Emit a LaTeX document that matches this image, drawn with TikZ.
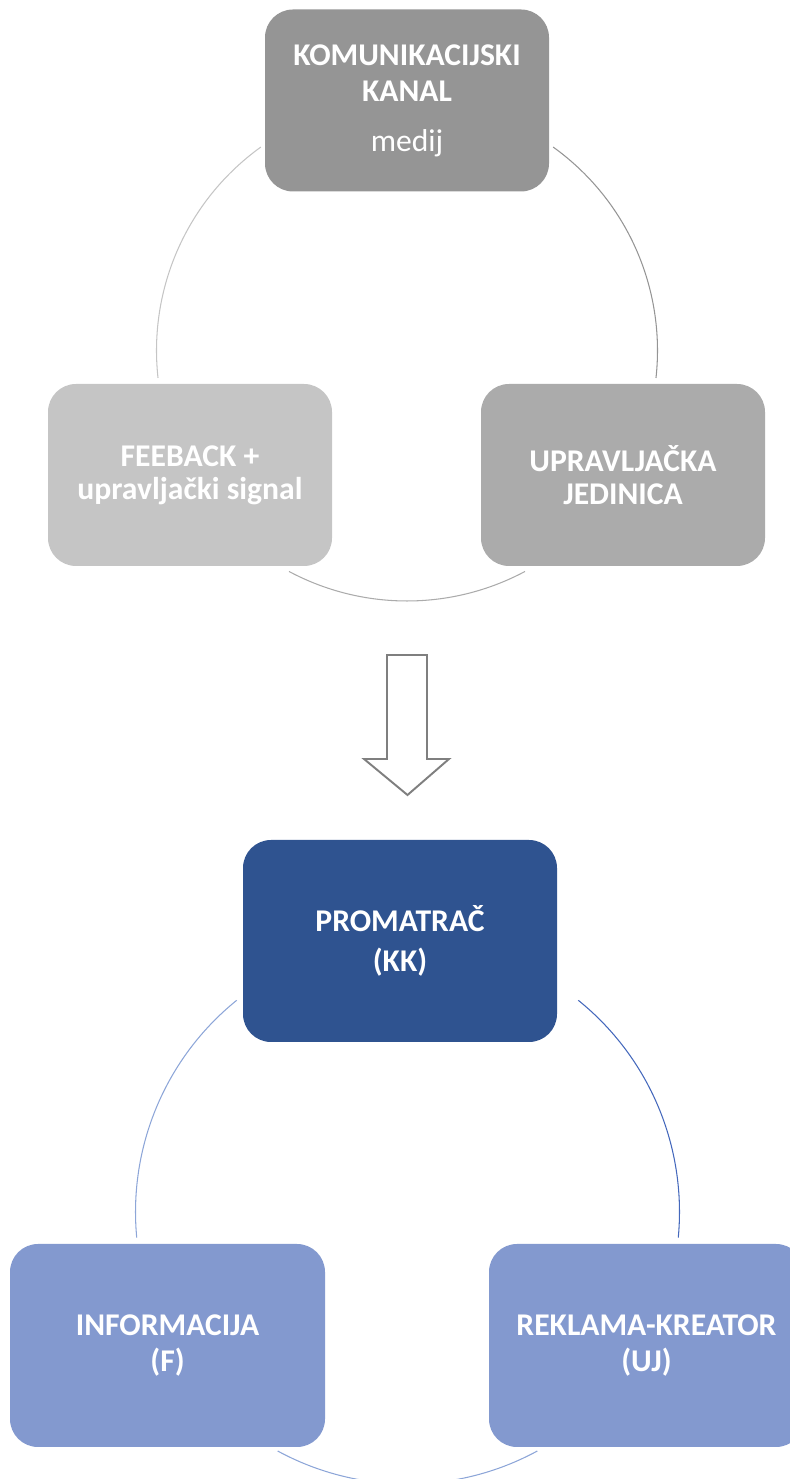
\documentclass[tikz,border=0pt]{standalone}
\usepackage{fontspec}
\setmainfont{Carlito}
\usepackage{tikz}

\definecolor{kanalgray}{HTML}{959595}
\definecolor{jedinicagray}{HTML}{ABABAB}
\definecolor{feedbackgray}{HTML}{C5C5C5}
\definecolor{arrowgray}{HTML}{7F7F7F}
\definecolor{promatracblue}{HTML}{2F5390}
\definecolor{lightblue}{HTML}{8399CF}
\definecolor{darkline}{HTML}{4468BC}
\definecolor{lightline}{HTML}{8DA6D8}

\tikzset{
	box/.style={rectangle, rounded corners=0.56cm, text=white, align=center, inner sep=0pt,
		font=\fontsize{18}{21}\selectfont\bfseries},
	topbox/.style={box, minimum width=5.68cm, minimum height=3.64cm},
	botbox/.style={box, minimum width=6.3cm, minimum height=4.06cm},
	cycline/.style={line width=0.6pt}
}

\begin{document}
\begin{tikzpicture}
	\useasboundingbox (0,0) rectangle (15.8,29.58);
	
	% gornji krug
	\coordinate (ctop) at (8.14,22.57);
	\node [topbox, fill=kanalgray] (kanal) at (8.14,27.57) {KOMUNIKACIJSKI\\KANAL\\[7pt]{\mdseries medij}};
	\node [topbox, fill=feedbackgray, font=\fontsize{18}{18.7}\selectfont\bfseries] (feedback) at (3.80,20.08) {FEEBACK +\\upravljački signal\vphantom{Č}};
	\node [topbox, fill=jedinicagray, font=\fontsize{18}{18.7}\selectfont\bfseries] (jedinica) at (12.46,20.08) {UPRAVLJAČKA\\JEDINICA};
	
	\draw [cycline, kanalgray] (ctop) ++(54.3:5.01) arc [start angle=54.3, end angle=-6.3, radius=5.01];
	\draw [cycline, jedinicagray] (ctop) ++(298.1:5.01) arc [start angle=298.1, end angle=241.9, radius=5.01];
	\draw [cycline, feedbackgray] (ctop) ++(186.3:5.01) arc [start angle=186.3, end angle=125.7, radius=5.01];
	
	% strelica
	\draw [arrowgray, line width=1.1pt, fill=white] (7.74,16.48) -- (8.54,16.48) -- (8.54,14.40) -- (8.98,14.40)
		-- (8.15,13.68) -- (7.28,14.40) -- (7.74,14.40) -- cycle;
	
	% donji krug
	\coordinate (cbot) at (8.15,5.34);
	\node [botbox, fill=promatracblue, minimum width=6.28cm, minimum height=4.04cm,
		font=\fontsize{18}{22.5}\selectfont\bfseries] (promatrac) at (8.00,10.76) {PROMATRAČ\\(KK)};
	\node [botbox, fill=lightblue, font=\fontsize{18}{20}\selectfont\bfseries] (informacija) at (3.35,2.67) {INFORMACIJA\\(F)};
	\node [botbox, fill=lightblue, font=\fontsize{18}{20}\selectfont\bfseries] (kreator) at (12.93,2.67) {REKLAMA-KREATOR\\(UJ)};
	
	\draw [cycline, darkline] (cbot) ++(51.1:5.44) arc [start angle=51.1, end angle=-5.4, radius=5.44];
	\draw [cycline, lightline] (cbot) ++(298.5:5.44) arc [start angle=298.5, end angle=241.5, radius=5.44];
	\draw [cycline, lightline] (cbot) ++(185.4:5.44) arc [start angle=185.4, end angle=128.9, radius=5.44];
	
\end{tikzpicture}
\end{document}
